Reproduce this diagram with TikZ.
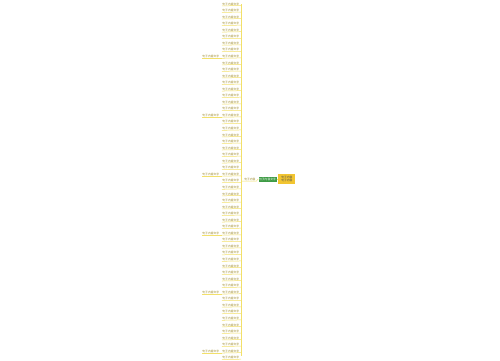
\documentclass[tikz,border=0pt]{standalone}
\usepackage{fontspec}
\newfontfamily\cjk{Noto Sans CJK SC}
\usetikzlibrary{positioning}
\definecolor{spinecol}{HTML}{F2E06A}
\definecolor{leafcol}{HTML}{9A8624}
\definecolor{rootcol}{HTML}{3E9B45}
\definecolor{notecol}{HTML}{F2C531}

\begin{document}
\begin{tikzpicture}[x=1pt,y=-1pt,font=\cjk\fontsize{2.8}{3.2}\selectfont]
    \tikzset{
        leaf/.style = {text=leafcol, inner sep=0.4pt, anchor=east},
        rootbox/.style = {rectangle, fill=rootcol, text=white, minimum width=18pt, minimum height=5pt, inner sep=0.5pt},
        notebox/.style = {rectangle, fill=notecol, text=black!70, minimum width=17pt, minimum height=10pt, inner sep=0.5pt, align=center},
        branch/.style = {text=leafcol, inner sep=0.6pt},
        link/.style = {draw=spinecol, line width=0.5pt},
    }
    \useasboundingbox (0,0) rectangle (500,360);

    \node [rootbox] (root) at (267.5,179) {句子内容文字};
    \node [notebox,right=1.5pt of root] (note) {句子内容\\句子内容};
    \node [branch,left=2pt of root] (br) {句子内容};

    \coordinate (top) at (241,4);
    \coordinate (bot) at (241,356);
    \draw [link, line width=1pt] (top) -- (bot);
    \draw [link] (top |- br.south west) -- (br.south west) -- (br.south east) -- (root.west);
    \draw [link] (root.east) -- (note.west);

    % leaves along the spine
    \foreach \i in {1,...,55} {
        \pgfmathsetmacro{\yy}{4+(\i-1)*6.55}
        \node [leaf] (l\i) at (239.8,\yy) {句子内容文字};
        \draw [link] (l\i.south west) -- (241,\yy+1.5);
    }

    % second level on the far left
    \foreach \i in {9,18,27,36,45,54} {
        \node [leaf, left=2pt of l\i] (c\i) {句子内容文字};
        \draw [link] (c\i.south west) -- (c\i.south east) -- (l\i.south west);
    }
\end{tikzpicture}
\end{document}
